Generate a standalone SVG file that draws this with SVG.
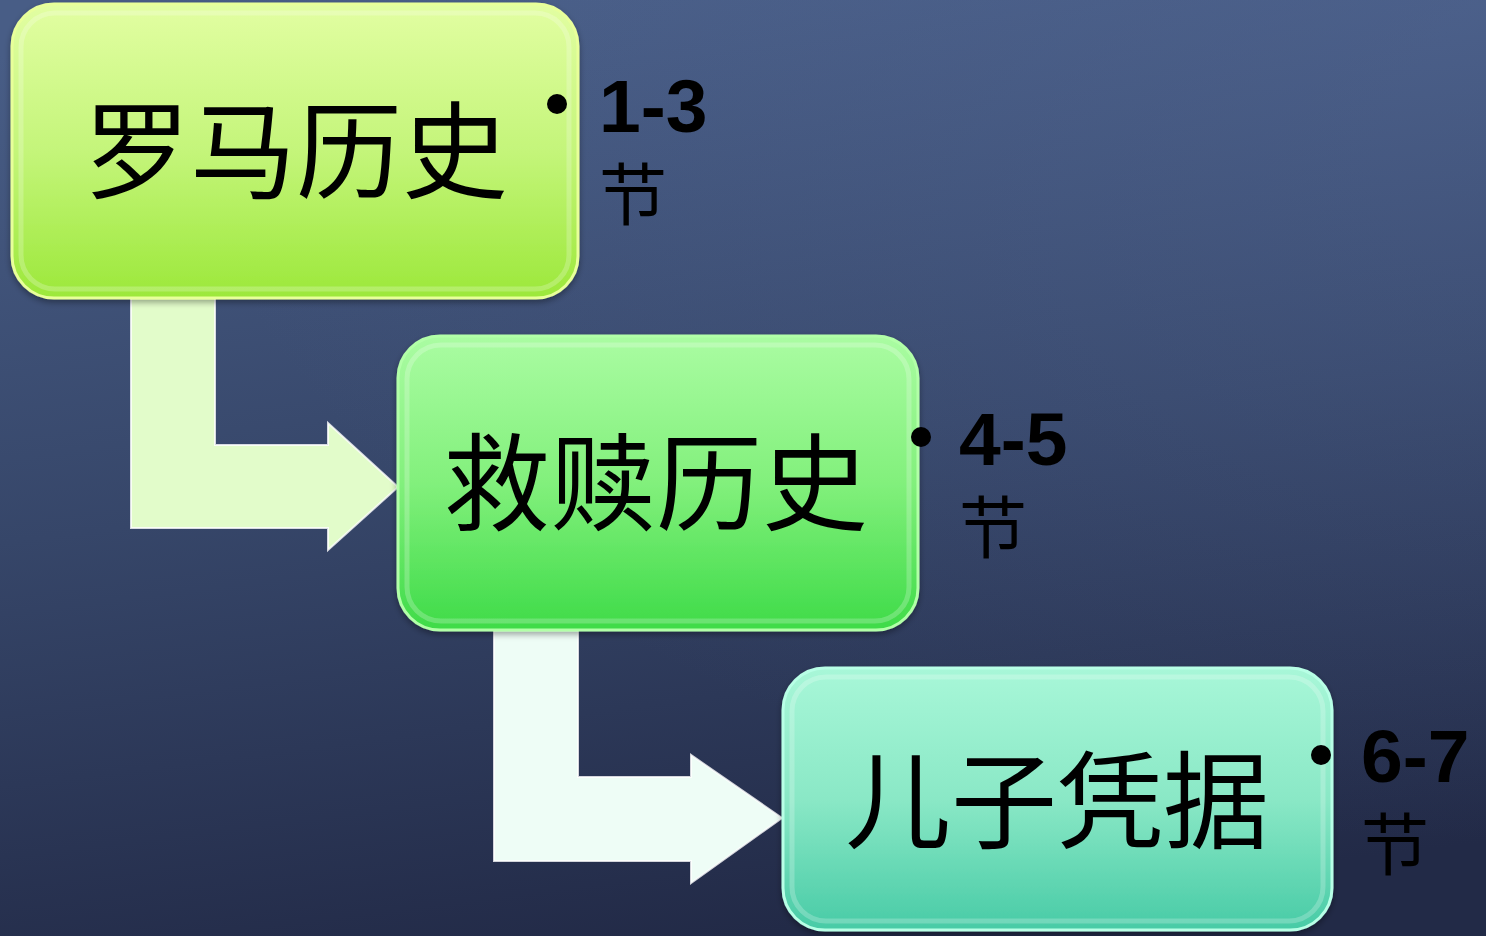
<svg xmlns="http://www.w3.org/2000/svg" width="1486" height="936" viewBox="0 0 1486 936">
<defs>
<linearGradient id="bg" x1="0.3" y1="0" x2="0.5" y2="1">
<stop offset="0" stop-color="#485d86"/>
<stop offset="0.5" stop-color="#364669"/>
<stop offset="1" stop-color="#222a47"/>
</linearGradient>
<radialGradient id="bgGlow" cx="1" cy="0" r="0.9">
<stop offset="0" stop-color="#5a70a0" stop-opacity="0.35"/>
<stop offset="1" stop-color="#5a70a0" stop-opacity="0"/>
</radialGradient>
<linearGradient id="g1" x1="0" y1="0" x2="0" y2="1">
<stop offset="0" stop-color="#e2fea2"/>
<stop offset="0.5" stop-color="#c4f57a"/>
<stop offset="1" stop-color="#9ce83a"/>
</linearGradient>
<linearGradient id="g2" x1="0" y1="0" x2="0" y2="1">
<stop offset="0" stop-color="#aafca2"/>
<stop offset="0.5" stop-color="#82f07c"/>
<stop offset="1" stop-color="#3edb48"/>
</linearGradient>
<linearGradient id="g3" x1="0" y1="0" x2="0" y2="1">
<stop offset="0" stop-color="#a8f7d8"/>
<stop offset="0.5" stop-color="#8ae8c6"/>
<stop offset="1" stop-color="#48cba6"/>
</linearGradient>
<filter id="sh" x="-10%" y="-10%" width="120%" height="125%">
<feDropShadow dx="0" dy="3" stdDeviation="3" flood-color="#000" flood-opacity="0.35"/>
</filter>
</defs>
<style>
.main{font-family:"Noto Sans CJK SC","Noto Sans",sans-serif;font-size:106px;fill:#000;text-anchor:middle}
.num{font-family:"Liberation Sans",Arial,sans-serif;font-weight:bold;font-size:75px;fill:#000}
.jie{font-family:"Noto Sans CJK SC",sans-serif;font-size:68px;fill:#000}
.hl{fill:none;stroke:#ffffff;stroke-opacity:0.22;stroke-width:5}
.conn{stroke:#ffffff;stroke-width:2;stroke-opacity:0.8}
</style>
<rect width="1486" height="936" fill="url(#bg)"/>
<rect width="1486" height="936" fill="url(#bgGlow)"/>

<g id="connectors">
<path class="conn" fill="#e2fcca" d="M131,298 H215 V445 H328 V423 L398,487 L328,550 V528 H131 Z"/>
<path class="conn" fill="#eefdf6" d="M494,630 H578 V777 H691 V755 L782,818 L691,883 V861 H494 Z"/>
</g>

<g id="node1">
<rect x="12" y="4" width="566" height="294" rx="42" fill="url(#g1)" stroke="#e8ff9a" stroke-width="3" filter="url(#sh)"/>
<rect class="hl" x="21" y="13" width="548" height="276" rx="34"/>
<text class="main" x="296" y="190">罗马历史</text>
</g>

<g id="node2">
<rect x="398" y="336" width="520" height="294" rx="42" fill="url(#g2)" stroke="#b2ffa8" stroke-width="3" filter="url(#sh)"/>
<rect class="hl" x="407" y="345" width="502" height="276" rx="34"/>
<text class="main" x="656" y="522">救赎历史</text>
</g>

<g id="node3">
<rect x="783" y="668" width="549" height="262" rx="42" fill="url(#g3)" stroke="#b8ffe6" stroke-width="3" filter="url(#sh)"/>
<rect class="hl" x="792" y="677" width="531" height="244" rx="34"/>
<text class="main" x="1057" y="840">儿子凭据</text>
</g>

<g id="label1">
<circle cx="557" cy="104" r="10" fill="#000"/>
<text class="num" x="599" y="132">1-3</text>
<text class="jie" x="599" y="220">节</text>
</g>
<g id="label2">
<circle cx="921" cy="437" r="10" fill="#000"/>
<text class="num" x="959" y="465">4-5</text>
<text class="jie" x="959" y="553">节</text>
</g>
<g id="label3">
<circle cx="1321" cy="755" r="10" fill="#000"/>
<text class="num" x="1361" y="782">6-7</text>
<text class="jie" x="1361" y="870">节</text>
</g>
</svg>
